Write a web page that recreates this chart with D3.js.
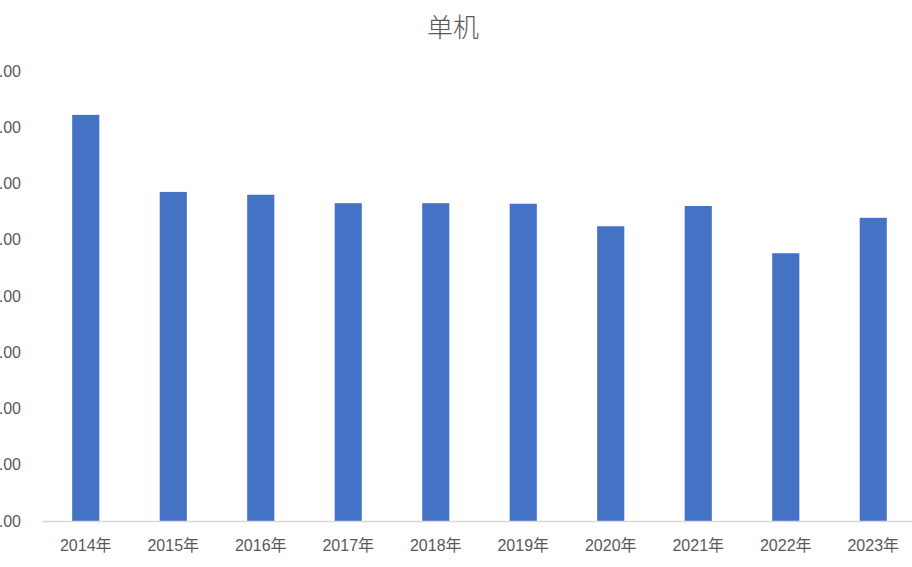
<!DOCTYPE html>
<html><head><meta charset="utf-8">
<script src="https://cdn.jsdelivr.net/npm/d3@7"></script>
<style>
html,body{margin:0;padding:0;background:#fff;overflow:hidden}
text{font-family:"Liberation Sans","Noto Sans CJK SC",sans-serif;fill:#595959}
</style></head>
<body>
<svg id="c" width="912" height="567"></svg>
<script>
const title = "单机";
const categories = ["2014年","2015年","2016年","2017年","2018年","2019年","2020年","2021年","2022年","2023年"];
const values = [7.22, 5.85, 5.80, 5.65, 5.65, 5.64, 5.24, 5.60, 4.76, 5.39];
const yTicks = [0,1,2,3,4,5,6,7,8];

const svg = d3.select("#c");
const x = d3.scaleBand().domain(categories).range([42, 917]).paddingInner(0.69).paddingOuter(0.345);
const y = d3.scaleLinear().domain([0, 8]).range([521, 71]);

svg.append("text").attr("x", 453).attr("y", 37).attr("text-anchor","middle")
  .style("font-family","'Noto Sans CJK SC',sans-serif").style("font-size","26px").style("font-weight","300").text(title);

svg.selectAll("rect.bar").data(values).join("rect").attr("class","bar")
  .attr("x",(d,i)=>x(categories[i])).attr("width",x.bandwidth())
  .attr("y",d=>y(d)).attr("height",d=>y(0)-y(d)).attr("fill","#4472C4");

const ya = svg.append("g").attr("transform","translate(42,0)")
  .call(d3.axisLeft(y).tickValues(yTicks).tickFormat(d3.format(".2f")).tickSize(0).tickPadding(21));
ya.select(".domain").remove();
ya.selectAll("text").style("font-size","16px").style("font-family","'Liberation Sans',sans-serif").attr("fill","#595959");

const xa = svg.append("g").attr("transform","translate(0,521)")
  .call(d3.axisBottom(x).tickSize(0).tickPadding(19));
xa.select(".domain").attr("stroke","#D9D9D9").attr("stroke-width",1.5).attr("d","M42,0.5H912");
xa.selectAll("text").style("font-size","16px").attr("fill","#595959");
</script>
</body></html>
